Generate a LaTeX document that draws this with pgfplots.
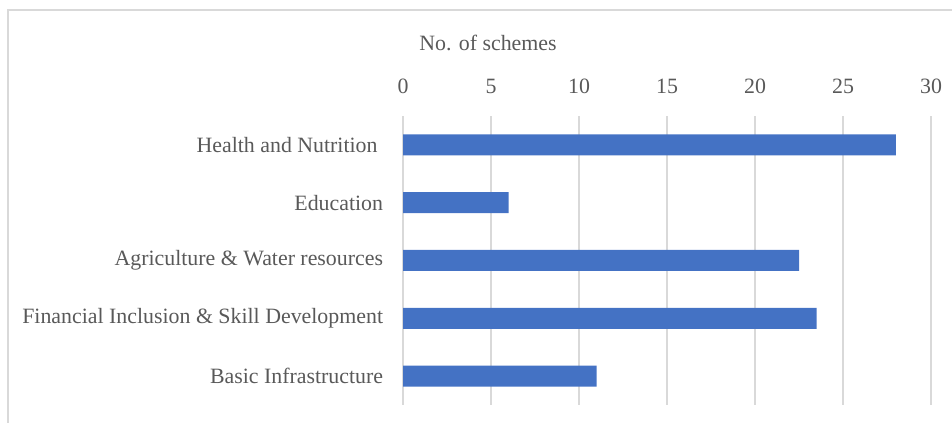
\documentclass[border=0pt]{standalone}
\usepackage{fontspec}
\setmainfont{Liberation Serif}
\usepackage{pgfplots}
\pgfplotsset{compat=1.18}
\definecolor{barblue}{HTML}{4472C4}
\definecolor{gridgray}{HTML}{D9D9D9}
\definecolor{txtgray}{HTML}{595959}
\definecolor{framegray}{HTML}{D9D9D9}
\begin{document}
\begin{tikzpicture}[x=1pt,y=1pt]
\useasboundingbox (0,0) rectangle (714,317.25);
\draw[framegray, line width=1.4pt] (6,0) -- (6,309.75) -- (714,309.75);
\node[anchor=base, text=txtgray, font=\fontsize{16.4}{19}\selectfont] at (366,279) {No. of schemes};
\begin{axis}[
  at={(302.25pt,13.5pt)}, anchor=south west,
  scale only axis,
  width=396pt, height=216.75pt,
  xmin=0, xmax=30, ymin=-0.5, ymax=4.5,
  y dir=reverse,
  xbar, bar width=15.75pt,
  xtick={0,5,10,15,20,25,30},
  ytick={0,1,2,3,4},
  yticklabels={Health and Nutrition\hspace*{0.25em},Education,Agriculture \& Water resources,Financial Inclusion \& Skill Development,Basic Infrastructure},
  xticklabel pos=top,
  axis line style={draw=none},
  major tick style={draw=none},
  xmajorgrids, ymajorgrids=false,
  grid style={gridgray, line width=1pt},
  /pgf/number format/assume math mode=true,
  ticklabel style={text=txtgray, font=\fontsize{16.4}{19}\selectfont},
  xticklabel style={anchor=base, yshift=17.25pt},
  yticklabel style={anchor=east, inner sep=0pt, xshift=-10.5pt},
]
\addplot[fill=barblue, draw=none] coordinates {(28,0) (6,1) (22.5,2) (23.5,3) (11,4)};
\end{axis}
\end{tikzpicture}
\end{document}
